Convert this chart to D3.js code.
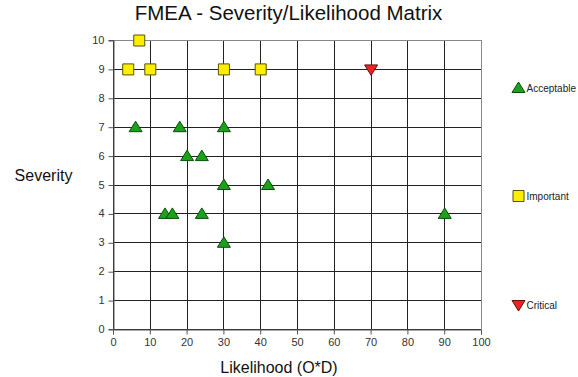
<!DOCTYPE html>
<html>
<head>
<meta charset="utf-8">
<script src="https://cdn.jsdelivr.net/npm/d3@7"></script>
<style>
  body { margin: 0; background: #fff; }
  text { font-family: "Liberation Sans", Arial, sans-serif; }
</style>
</head>
<body>
<div id="chart"></div>
<script>
// data
const acceptableX = [6, 18, 30, 20, 24, 30, 42, 14, 16, 24, 30, 90];
const acceptableY = [7, 7, 7, 6, 6, 5, 5, 4, 4, 4, 3, 4];
const importantX = [7, 4, 10, 30, 40];
const importantY = [10, 9, 9, 9, 9];
const criticalX = [70];
const criticalY = [9];
const xTicks = [0, 10, 20, 30, 40, 50, 60, 70, 80, 90, 100];
const yTicks = [0, 1, 2, 3, 4, 5, 6, 7, 8, 9, 10];
const seriesNames = ['Acceptable', 'Important', 'Critical'];

const width = 578, height = 377;
const plot = {left: 113, right: 481, top: 40, bottom: 329};

const svg = d3.select('#chart').append('svg')
    .attr('width', width)
    .attr('height', height);

const x = d3.scaleLinear().domain([0, 100]).range([plot.left, plot.right]);
const y = d3.scaleLinear().domain([0, 10]).range([plot.bottom, plot.top]);

// grid
const grid = svg.append('g').attr('shape-rendering', 'crispEdges');
grid.selectAll('.vg').data(xTicks).enter().append('line')
    .attr('x1', (d) => Math.round(x(d)) + 0.5).attr('x2', (d) => Math.round(x(d)) + 0.5)
    .attr('y1', plot.top).attr('y2', plot.bottom)
    .attr('stroke', (d) => d === 100 ? '#888' : '#222');
grid.selectAll('.hg').data(yTicks).enter().append('line')
    .attr('y1', (d) => Math.round(y(d)) + 0.5).attr('y2', (d) => Math.round(y(d)) + 0.5)
    .attr('x1', plot.left).attr('x2', plot.right)
    .attr('stroke', (d) => d === 10 ? '#888' : '#222');

// axes
const xAxis = svg.append('g')
    .attr('transform', `translate(0,${plot.bottom + 0.5})`)
    .call(d3.axisBottom(x).tickValues(xTicks).tickSize(5).tickPadding(4));
const yAxis = svg.append('g')
    .attr('transform', `translate(${plot.left + 0.5},0)`)
    .call(d3.axisLeft(y).tickValues(yTicks).tickSize(5).tickPadding(4));
[xAxis, yAxis].forEach((a) => {
  a.selectAll('.domain').attr('stroke', '#555');
  a.selectAll('.tick line').attr('stroke', '#555');
  a.selectAll('text').attr('font-size', 11).attr('fill', '#333')
      .attr('font-family', '"Liberation Sans", Arial, sans-serif');
});
yAxis.selectAll('.tick line').attr('transform', 'translate(0,0.5)');

// marker shapes
const triUp = 'M0,-6L6.5,4.5L-6.5,4.5Z';
const triDown = 'M0,6L6.5,-4.5L-6.5,-4.5Z';
const square = 'M-5.5,-5.5H5.5V5.5H-5.5Z';

const drawSeries = (xs, ys, shape, fill, stroke) => {
  svg.append('g').selectAll('path')
      .data(xs.map((d, i) => [d, ys[i]]))
      .enter().append('path')
      .attr('d', shape)
      .attr('transform', (d) => `translate(${x(d[0]) + 0.5},${y(d[1]) + 0.5})`)
      .attr('fill', fill)
      .attr('stroke', stroke)
      .attr('stroke-width', 1);
};
drawSeries(acceptableX, acceptableY, triUp, '#1aa31a', '#0b4d0b');
drawSeries(importantX, importantY, square, '#ffee00', '#555500');
drawSeries(criticalX, criticalY, triDown, '#ee2222', '#661111');

// title and axis titles
svg.append('text').attr('x', 288.5).attr('y', 20).attr('text-anchor', 'middle')
    .attr('font-size', 20.5).attr('fill', '#111')
    .text('FMEA - Severity/Likelihood Matrix');
svg.append('text').attr('x', 43.5).attr('y', 181).attr('text-anchor', 'middle')
    .attr('font-size', 16).attr('fill', '#111').text('Severity');
svg.append('text').attr('x', 279).attr('y', 373).attr('text-anchor', 'middle')
    .attr('font-size', 16).attr('fill', '#111').text('Likelihood (O*D)');

// legend
const legend = [
  {name: seriesNames[0], shape: triUp, fill: '#1aa31a', stroke: '#0b4d0b', y: 88},
  {name: seriesNames[1], shape: square, fill: '#ffee00', stroke: '#555500', y: 196},
  {name: seriesNames[2], shape: triDown, fill: '#ee2222', stroke: '#661111', y: 305}
];
const lg = svg.append('g').selectAll('g').data(legend).enter().append('g')
    .attr('transform', (d) => `translate(518.5,${d.y})`);
lg.append('path').attr('d', (d) => d.shape)
    .attr('fill', (d) => d.fill).attr('stroke', (d) => d.stroke);
lg.append('text').attr('x', 8).attr('y', 4).attr('font-size', 10)
    .attr('fill', '#222').text((d) => d.name);
</script>
</body>
</html>
